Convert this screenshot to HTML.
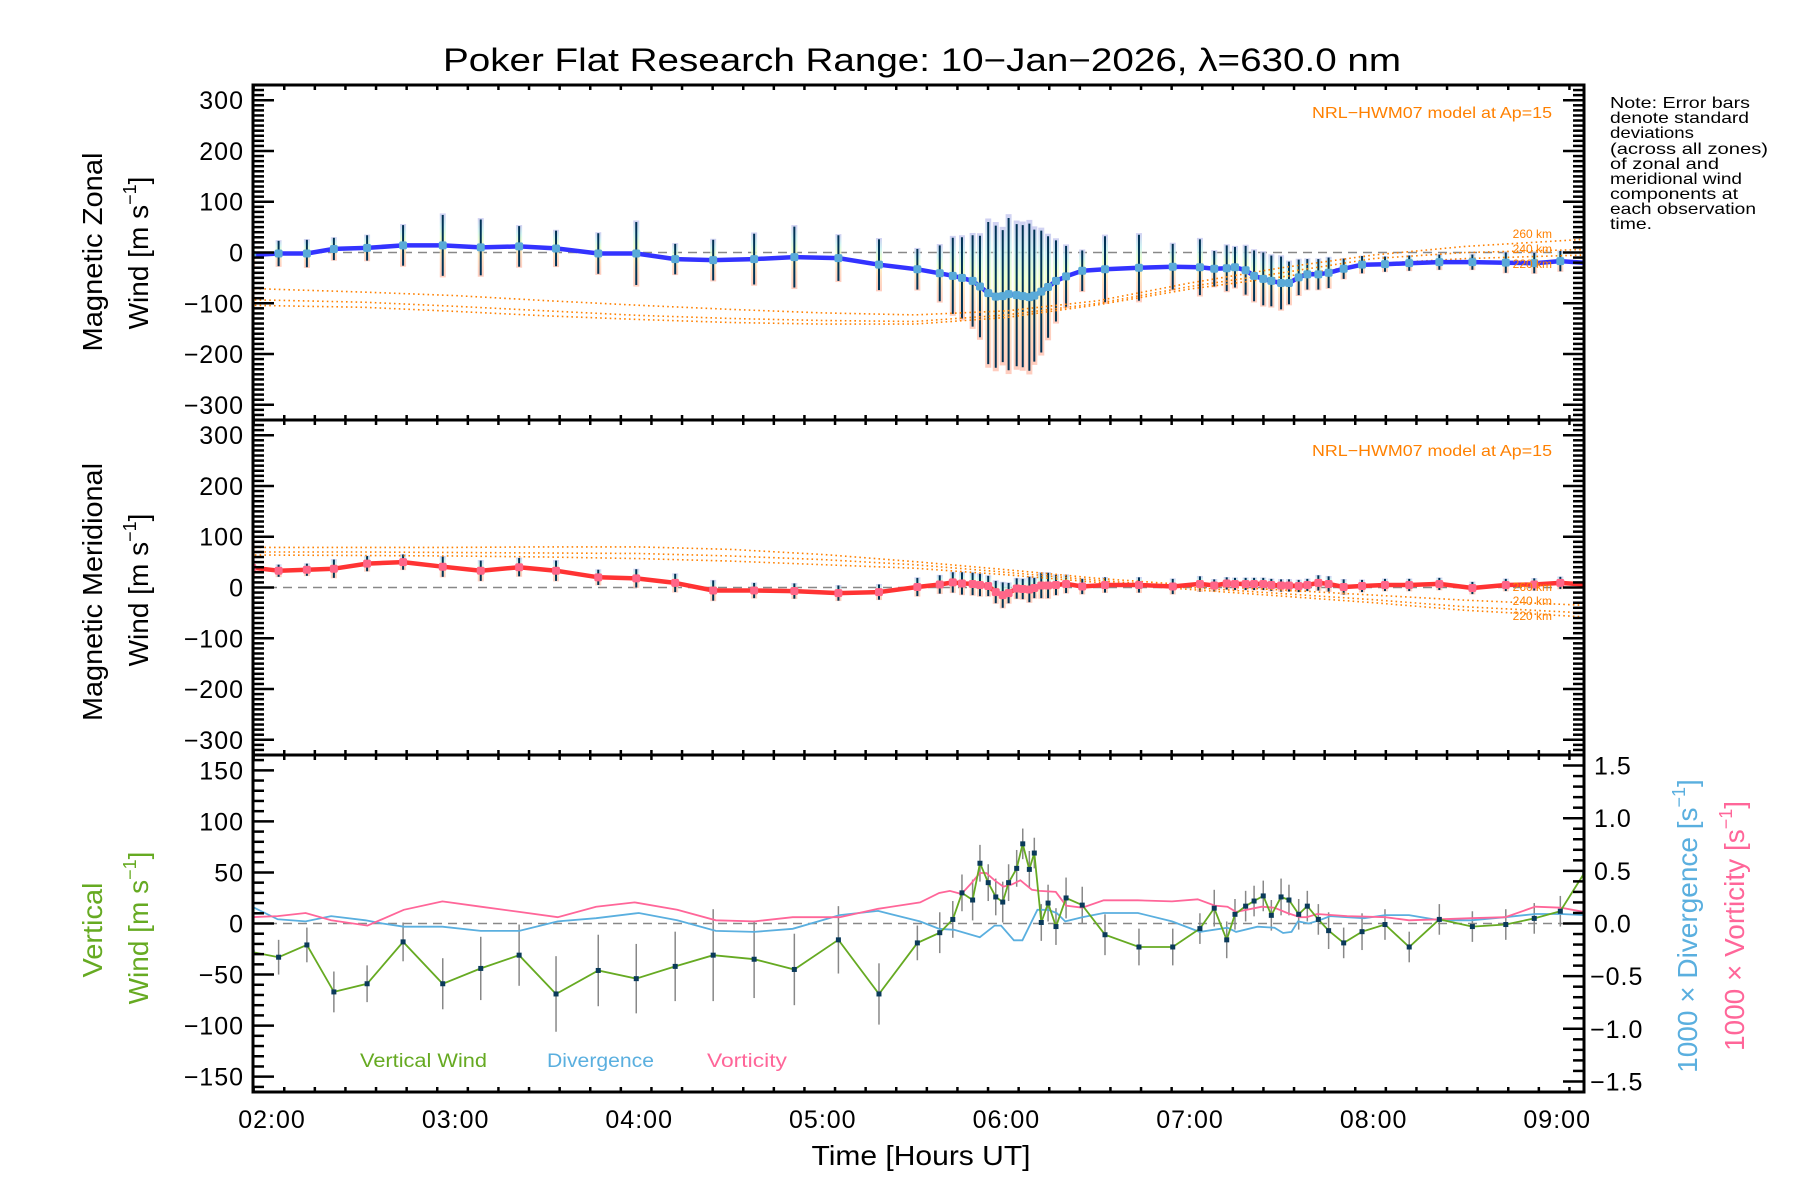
<!DOCTYPE html>
<html><head><meta charset="utf-8"><title>Poker Flat Research Range winds</title>
<style>
html,body{margin:0;padding:0;background:#fff;}
svg{display:block;font-family:"Liberation Sans",sans-serif;}
</style></head>
<body>
<svg id="chart" xmlns="http://www.w3.org/2000/svg" width="1800" height="1200" viewBox="0 0 1800 1200">
<defs>
<linearGradient id="pastel" x1="0" y1="0" x2="0" y2="1">
<stop offset="0" stop-color="#c8c8f0"/><stop offset="0.2" stop-color="#c8f0f0"/><stop offset="0.38" stop-color="#e8ffc8"/><stop offset="0.55" stop-color="#fff0b8"/><stop offset="0.72" stop-color="#ffd8b8"/><stop offset="1" stop-color="#ffc4b4"/>
</linearGradient>
<clipPath id="clipTop"><rect x="253" y="85" width="1331" height="335"/></clipPath>
<clipPath id="clipMid"><rect x="253" y="420" width="1331" height="335"/></clipPath>
<clipPath id="clipBot"><rect x="253" y="755" width="1331" height="337"/></clipPath>
</defs>
<rect width="1800" height="1200" fill="#fff"/>
<text x="922" y="71" font-size="32" text-anchor="middle" textLength="958" lengthAdjust="spacingAndGlyphs">Poker Flat Research Range: 10−Jan−2026, λ=630.0 nm</text>

<g font-size="16" fill="#000">
<text x="1610" y="108" textLength="140" lengthAdjust="spacingAndGlyphs">Note: Error bars</text>
<text x="1610" y="123" textLength="139" lengthAdjust="spacingAndGlyphs">denote standard</text>
<text x="1610" y="138" textLength="84" lengthAdjust="spacingAndGlyphs">deviations</text>
<text x="1610" y="154" textLength="158" lengthAdjust="spacingAndGlyphs">(across all zones)</text>
<text x="1610" y="169" textLength="109" lengthAdjust="spacingAndGlyphs">of zonal and</text>
<text x="1610" y="184" textLength="132" lengthAdjust="spacingAndGlyphs">meridional wind</text>
<text x="1610" y="199" textLength="128" lengthAdjust="spacingAndGlyphs">components at</text>
<text x="1610" y="214" textLength="146" lengthAdjust="spacingAndGlyphs">each observation</text>
<text x="1610" y="229" textLength="42" lengthAdjust="spacingAndGlyphs">time.</text>
</g>

<text x="1552" y="118" font-size="16" fill="#ff8000" text-anchor="end" textLength="240" lengthAdjust="spacingAndGlyphs">NRL−HWM07 model at Ap=15</text>
<text x="1552" y="456" font-size="16" fill="#ff8000" text-anchor="end" textLength="240" lengthAdjust="spacingAndGlyphs">NRL−HWM07 model at Ap=15</text>

<text transform="translate(102,252) rotate(-90)" font-size="28" text-anchor="middle" textLength="199" lengthAdjust="spacingAndGlyphs">Magnetic Zonal</text>
<text transform="translate(148,253) rotate(-90)" font-size="28" text-anchor="middle">Wind [m s<tspan font-size="18" dy="-12">−1</tspan><tspan dy="12">]</tspan></text>
<text transform="translate(102,592) rotate(-90)" font-size="28" text-anchor="middle" textLength="258" lengthAdjust="spacingAndGlyphs">Magnetic Meridional</text>
<text transform="translate(148,590) rotate(-90)" font-size="28" text-anchor="middle">Wind [m s<tspan font-size="18" dy="-12">−1</tspan><tspan dy="12">]</tspan></text>
<text transform="translate(102,930) rotate(-90)" font-size="28" fill="#66aa22" text-anchor="middle" textLength="95" lengthAdjust="spacingAndGlyphs">Vertical</text>
<text transform="translate(148,928) rotate(-90)" font-size="28" fill="#66aa22" text-anchor="middle">Wind [m s<tspan font-size="18" dy="-12">−1</tspan><tspan dy="12">]</tspan></text>
<text transform="translate(1697,926) rotate(-90)" font-size="28" fill="#5aafdf" text-anchor="middle">1000 × Divergence [s<tspan font-size="18" dy="-12">−1</tspan><tspan dy="12">]</tspan></text>
<text transform="translate(1744,926) rotate(-90)" font-size="28" fill="#ff6699" text-anchor="middle">1000 × Vorticity [s<tspan font-size="18" dy="-12">−1</tspan><tspan dy="12">]</tspan></text>

<text x="921" y="1165" font-size="28" text-anchor="middle" textLength="219" lengthAdjust="spacingAndGlyphs">Time [Hours UT]</text>

<text x="360" y="1067" font-size="19" fill="#66aa22" textLength="127" lengthAdjust="spacingAndGlyphs">Vertical Wind</text>
<text x="547" y="1067" font-size="19" fill="#5aafdf" textLength="107" lengthAdjust="spacingAndGlyphs">Divergence</text>
<text x="707" y="1067" font-size="19" fill="#ff6699" textLength="80" lengthAdjust="spacingAndGlyphs">Vorticity</text>

<g id="plots"></g>
<g id="axes"></g>
</svg>
<script>
// ---- data ----
const obsTimes = [1.892,2.036,2.190,2.337,2.518,2.714,2.930,3.137,3.346,3.547,3.777,3.984,4.196,4.403,4.626,4.845,5.085,5.306,5.515,5.637,5.708,5.758,5.816,5.856,5.901,5.942,5.980,6.012,6.056,6.089,6.125,6.152,6.190,6.227,6.270,6.325,6.413,6.537,6.722,6.906,7.054,7.132,7.200,7.245,7.303,7.349,7.399,7.443,7.496,7.539,7.592,7.639,7.699,7.755,7.837,7.937,8.062,8.194,8.358,8.538,8.720,8.875,9.017];
const zonalWind = [-5,-2,-2,7,9,14,14,10,12,8,-2,-2,-13,-15,-13,-9,-11,-24,-33,-41,-46,-50,-56,-67,-80,-87,-86,-82,-84,-86,-88,-85,-77,-68,-56,-47,-36,-33,-30,-28,-29,-32,-31,-29,-35,-46,-52,-56,-60,-60,-49,-43,-43,-40,-32,-24,-23,-21,-19,-19,-20,-21,-17];
const zonalErr = [25,25,27,22,25,40,60,55,40,35,40,62,30,40,50,60,45,50,40,55,75,80,90,100,140,140,130,150,140,140,145,130,120,100,80,60,40,65,65,45,55,35,45,40,48,50,52,50,52,42,35,30,30,30,20,17,15,15,15,15,20,20,20];
const meridWind = [39,33,35,37,47,50,41,33,40,33,20,18,9,-6,-6,-7,-11,-9,1,6,10,8,7,5,3,-9,-15,-11,-2,-3,-4,-1,4,4,5,7,2,5,5,2,7,4,8,7,7,7,7,5,4,4,3,5,9,7,1,3,5,5,7,-1,5,6,9];
const meridErr = [15,12,12,18,15,15,20,20,18,20,15,18,18,20,15,15,15,15,18,18,20,22,22,22,20,22,25,20,20,20,25,20,25,25,20,18,15,15,15,15,15,12,12,12,12,12,12,12,12,12,12,12,15,15,15,12,12,12,12,12,12,12,12];
const vwTimes = [1.892,2.036,2.190,2.337,2.518,2.714,2.930,3.137,3.346,3.547,3.777,3.984,4.196,4.403,4.626,4.845,5.085,5.306,5.515,5.637,5.708,5.758,5.816,5.856,5.901,5.942,5.980,6.012,6.056,6.089,6.125,6.152,6.190,6.227,6.270,6.325,6.413,6.537,6.722,6.906,7.054,7.132,7.200,7.245,7.303,7.349,7.399,7.443,7.496,7.539,7.592,7.639,7.699,7.755,7.837,7.937,8.062,8.194,8.358,8.538,8.720,8.875,9.017,9.150];
const vertWind = [-28,-33,-21,-67,-59,-18,-59,-44,-31,-69,-46,-54,-42,-31,-35,-45,-16,-69,-19,-9,4,30,23,59,40,26,21,40,54,78,53,69,1,20,-3,25,18,-11,-23,-23,-5,15,-16,9,17,22,27,8,26,23,9,17,4,-7,-19,-8,-1,-23,4,-3,-1,5,12,50];
const vertErr = [15,17,17,20,18,19,25,31,30,37,35,34,34,45,38,35,33,30,17,20,18,18,20,18,18,18,20,18,18,15,18,15,18,18,18,20,18,20,18,18,15,18,18,15,15,15,15,15,18,15,15,15,15,18,15,18,15,15,15,15,15,15,15,0];
const divTimes = [1.880,2.031,2.183,2.322,2.509,2.602,2.718,2.928,3.137,3.347,3.556,3.765,3.998,4.207,4.417,4.627,4.836,5.092,5.301,5.529,5.634,5.715,5.855,5.936,5.971,6.041,6.087,6.169,6.227,6.274,6.320,6.413,6.530,6.716,6.902,7.053,7.204,7.251,7.367,7.460,7.507,7.553,7.588,7.647,7.705,7.763,7.856,7.949,8.065,8.193,8.359,8.531,8.717,8.880,9.020,9.147];
const divergence = [0.17,0.04,0.02,0.07,0.03,0,-0.03,-0.03,-0.07,-0.07,0.02,0.05,0.10,0.03,-0.07,-0.08,-0.05,0.08,0.12,0.02,-0.05,-0.06,-0.13,-0.02,-0.02,-0.16,-0.16,0.13,0.13,0.10,0.02,0.06,0.10,0.10,0.02,-0.08,-0.04,-0.08,-0.03,-0.04,-0.09,-0.08,0.02,0,0.03,0.07,0.06,0.05,0.08,0.08,0.03,0.03,0.06,0.09,0.09,0.08];
const vortTimes = [1.880,2.031,2.183,2.322,2.520,2.718,2.928,3.137,3.347,3.556,3.765,3.975,4.207,4.417,4.627,4.836,5.092,5.301,5.530,5.634,5.692,5.755,5.808,5.855,5.890,5.936,5.983,6.029,6.076,6.139,6.181,6.269,6.325,6.413,6.530,6.716,6.902,7.042,7.135,7.204,7.251,7.391,7.460,7.530,7.600,7.635,7.693,7.856,8.065,8.193,8.359,8.531,8.717,8.880,9.020,9.147];
const vorticity = [0.06,0.07,0.10,0.03,-0.02,0.13,0.21,0.16,0.11,0.06,0.16,0.20,0.13,0.03,0.02,0.06,0.06,0.14,0.20,0.29,0.31,0.28,0.38,0.48,0.48,0.41,0.35,0.37,0.41,0.32,0.31,0.30,0.17,0.15,0.22,0.22,0.21,0.23,0.17,0.16,0.11,0.16,0.15,0.10,0.06,0.06,0.09,0.07,0.06,0.03,0.04,0.05,0.06,0.16,0.15,0.11];
const modelTimes = [1.88,2.5,3.0,3.5,4.0,4.5,5.0,5.5,6.0,6.5,7.0,7.5,8.0,8.5,9.15];
const zonalModel260 = [-71,-78,-85,-95,-104,-112,-119,-123,-115,-95,-60,-30,-5,12,26];
const zonalModel240 = [-93,-98,-106,-115,-124,-130,-134,-136,-123,-100,-67,-40,-12,0,6];
const zonalModel220 = [-104,-108,-116,-125,-132,-138,-141,-141,-128,-103,-72,-48,-22,-12,-5];
const meridModel260 = [79,79,79,80,80,75,65,51,35,18,5,-5,-15,-25,-35];
const meridModel240 = [70,70,69,68,67,62,55,45,30,14,0,-12,-24,-38,-50];
const meridModel220 = [64,63,62,60,57,52,45,38,25,10,-4,-17,-30,-45,-58];
const windTickValues = [300,200,100,0,-100,-200,-300];
const windTickLabels = ['300','200','100','0','−100','−200','−300'];
const vertTickValues = [150,100,50,0,-50,-100,-150];
const vertTickLabels = ['150','100','50','0','−50','−100','−150'];
const rightTickValues = [1.5,1.0,0.5,0,-0.5,-1.0,-1.5];
const rightTickLabels = ['1.5','1.0','0.5','0.0','−0.5','−1.0','−1.5'];
const hourTicks = [2,3,4,5,6,7,8,9];
const hourLabels = ['02:00','03:00','04:00','05:00','06:00','07:00','08:00','09:00'];

// ---- scales ----
const X0 = 253, X1 = 1584;
const xS = h => 272 + (h - 2) * 183.6;
const yZ = v => 252.5 - v * 0.5076;
const yM = v => 587.5 - v * 0.5076;
const yV = v => 923.5 - v * 1.0212;
const yR = v => 923.5 - v * 105.3;

const NS = 'http://www.w3.org/2000/svg';
const plots = document.getElementById('plots');
const axes = document.getElementById('axes');
function mk(tag, attrs, parent) {
  const e = document.createElementNS(NS, tag);
  for (const k in attrs) e.setAttribute(k, attrs[k]);
  parent.appendChild(e);
  return e;
}
function pts(ts, vs, ys) { return ts.map((t, i) => xS(t).toFixed(1) + ',' + ys(vs[i]).toFixed(1)).join(' '); }

// ---- wind panels ----
function windPanel(clip, ys, vals, errs, lineColor, dotColor, models, prefix) {
  const g = mk('g', {'clip-path': 'url(#' + clip + ')'}, plots);
  
  
  const zl = mk('line', {x1: X0, x2: X1, y1: ys(0), y2: ys(0), stroke: '#888', 'stroke-width': 1.5, 'stroke-dasharray': '9,6'}, g);
  
  
  obsTimes.forEach((t, i) => {
    const e = errs[i] * 1.05;
    const r = mk('rect', {x: xS(t) - 3, y: ys(vals[i] + e), width: 6, height: ys(vals[i] - e) - ys(vals[i] + e), fill: 'url(#pastel)', opacity: 0.85}, g);
    
    
  });
  obsTimes.forEach((t, i) => {
    const l = mk('line', {x1: xS(t), x2: xS(t), y1: ys(vals[i] + errs[i]), y2: ys(vals[i] - errs[i]), stroke: '#003355', 'stroke-width': 2}, g);
    
    
  });
  models.forEach((m, k) => {
    const p = mk('polyline', {points: pts(modelTimes, m, ys), fill: 'none', stroke: '#ff8000', 'stroke-width': 1.6, 'stroke-dasharray': '1.6,3.2'}, g);
    
    
  });
  const ln = mk('polyline', {points: pts(obsTimes, vals, ys) + ' ' + X1 + ',' + ys(vals[vals.length - 1] - 3).toFixed(1), fill: 'none', stroke: lineColor, 'stroke-width': 4.5, 'stroke-linejoin': 'round'}, g);
  
  
  obsTimes.forEach((t, i) => {
    const d = mk('rect', {x: xS(t) - 4, y: ys(vals[i]) - 4, width: 8, height: 8, rx: 2, fill: dotColor}, g);
    
    
  });
}
windPanel('clipTop', yZ, zonalWind, zonalErr, '#3333ff', '#5aaad8', [zonalModel260, zonalModel240, zonalModel220], 'zonal');
windPanel('clipMid', yM, meridWind, meridErr, '#ff3333', '#ff6688', [meridModel260, meridModel240, meridModel220], 'meridional');

// km labels
const kmLabels = ['260 km', '240 km', '220 km'];
const kmTop = [238, 253, 268];
const kmMid = [591, 605, 620];
kmLabels.forEach((s, i) => {
  const a = mk('text', {x: 1552, y: kmTop[i], 'font-size': 12, fill: '#ff8000', 'text-anchor': 'end'}, plots);
  a.textContent = s;
  
  
  const b = mk('text', {x: 1552, y: kmMid[i], 'font-size': 12, fill: '#ff8000', 'text-anchor': 'end'}, plots);
  b.textContent = s;
  
  
});

// ---- vertical panel ----
const gb = mk('g', {'clip-path': 'url(#clipBot)'}, plots);


const zb = mk('line', {x1: X0, x2: X1, y1: yV(0), y2: yV(0), stroke: '#888', 'stroke-width': 1.5, 'stroke-dasharray': '9,6'}, gb);


vwTimes.forEach((t, i) => {
  if (!vertErr[i]) return;
  const l = mk('line', {x1: xS(t), x2: xS(t), y1: yV(vertWind[i] + vertErr[i]), y2: yV(vertWind[i] - vertErr[i]), stroke: '#888', 'stroke-width': 1.5}, gb);
  
  
});
const dl = mk('polyline', {points: pts(divTimes, divergence, yR), fill: 'none', stroke: '#5aafdf', 'stroke-width': 1.8}, gb);


const vl = mk('polyline', {points: pts(vortTimes, vorticity, yR), fill: 'none', stroke: '#ff6699', 'stroke-width': 1.8}, gb);


const wl = mk('polyline', {points: pts(vwTimes, vertWind, yV), fill: 'none', stroke: '#66aa22', 'stroke-width': 1.8}, gb);


vwTimes.forEach((t, i) => {
  const d = mk('rect', {x: xS(t) - 2.5, y: yV(vertWind[i]) - 2.5, width: 5, height: 5, fill: '#0a3a5a'}, gb);
  
  
});

// ---- axes ----
function ln(x1, y1, x2, y2, w, parent) { return mk('line', {x1: x1, y1: y1, x2: x2, y2: y2, stroke: '#000', 'stroke-width': w}, parent); }
const frame = mk('rect', {x: X0, y: 85, width: X1 - X0, height: 1092 - 85, fill: 'none', stroke: '#000', 'stroke-width': 3}, axes);


const d1 = ln(X0, 420, X1, 420, 3, axes);


const d2 = ln(X0, 755, X1, 755, 3, axes);



const tickG = mk('g', {}, axes);


[yZ, yM].forEach(ys => {
  for (let v = -330; v <= 330; v += 10) {
    const y = ys(v);
    const L = (v % 100 === 0) ? 21 : 11;
    ln(X0, y, X0 + L, y, 2.5, tickG);
    ln(X1, y, X1 - L, y, 2.5, tickG);
  }
});
for (let v = -160; v <= 160; v += 10) {
  const y = yV(v);
  ln(X0, y, X0 + ((v % 50 === 0) ? 21 : 11), y, 2.5, tickG);
}
for (let k = -16; k <= 16; k++) {
  const y = yR(k / 10);
  ln(X1, y, X1 - ((k % 5 === 0) ? 21 : 11), y, 2.5, tickG);
}
for (let m = 114; m <= 549; m += 10) {
  const h = m / 60;
  const x = xS(h);
  if (x < X0 || x > X1) continue;
  const major = (m % 60 === 0);
  const L = major ? 10 : 5;
  const w = major ? 3 : 2.5;
  ln(x, 85, x, 85 + L, w, tickG);
  ln(x, 420 - L, x, 420 + L, w, tickG);
  ln(x, 755 - L, x, 755 + L, w, tickG);
  ln(x, 1092 - L, x, 1092, w, tickG);
}
function lab(x, y, s, anchor, name) {
  const t = mk('text', {x: x, y: y, 'font-size': 25, 'text-anchor': anchor, 'letter-spacing': 1}, axes);
  t.textContent = s;
  
  
}
windTickValues.forEach((v, i) => { lab(244, yZ(v) + 9, windTickLabels[i], 'end', 'zonal-y-tick-label'); });
windTickValues.forEach((v, i) => { lab(244, yM(v) + 9, windTickLabels[i], 'end', 'meridional-y-tick-label'); });
vertTickValues.forEach((v, i) => { lab(244, yV(v) + 9, vertTickLabels[i], 'end', 'vertical-y-tick-label'); });
rightTickValues.forEach((v, i) => { lab(v < 0 ? 1590 : 1594, yR(v) + 9, rightTickLabels[i], 'start', 'right-y-tick-label'); });
hourTicks.forEach((h, i) => { lab(xS(h), 1128, hourLabels[i], 'middle', 'x-tick-label'); });
</script>
</body></html>
